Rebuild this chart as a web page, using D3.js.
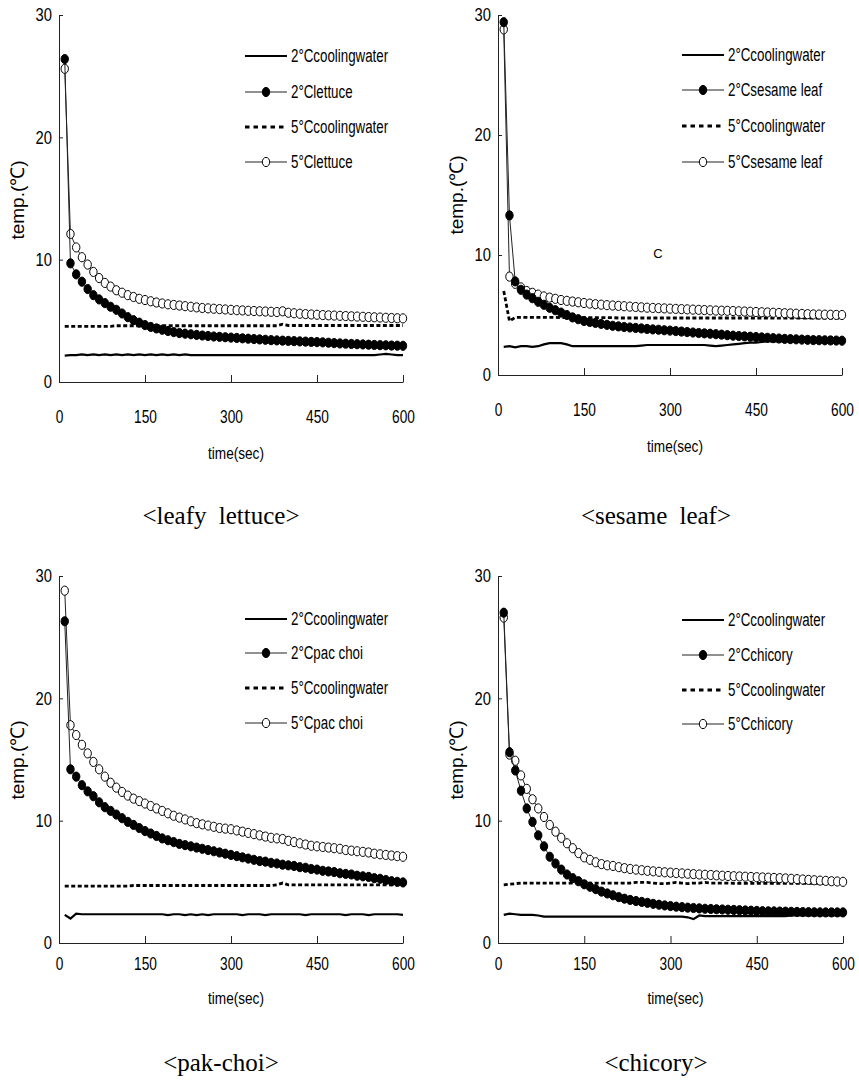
<!DOCTYPE html>
<html>
<head>
<meta charset="utf-8">
<script src="https://cdn.jsdelivr.net/npm/d3@7"></script>
<style>
body { margin: 0; background: #fff; }
svg text { font-family: "Liberation Sans", Arial, sans-serif; fill: #000; }
</style>
</head>
<body>
<svg id="chart" width="859" height="1091"></svg>
<script>
// sampling times (sec)
var time = [10,20,30,40,50,60,70,80,90,100,
  110,120,130,140,150,160,170,180,190,200,
  210,220,230,240,250,260,270,280,290,300,
  310,320,330,340,350,360,370,380,390,400,
  410,420,430,440,450,460,470,480,490,500,
  510,520,530,540,550,560,570,580,590,600];
var xTicks = [0, 150, 300, 450, 600];
var yTicks = [0, 10, 20, 30];

// leafy lettuce
var lettuceWater2 = [2.15,2.2,2.2,2.25,2.2,2.25,2.2,2.25,2.2,2.25,
  2.2,2.25,2.2,2.25,2.2,2.25,2.2,2.25,2.2,2.25,
  2.2,2.25,2.2,2.2,2.2,2.2,2.2,2.2,2.2,2.2,
  2.2,2.2,2.2,2.2,2.2,2.2,2.2,2.2,2.2,2.2,
  2.2,2.2,2.2,2.2,2.2,2.2,2.2,2.2,2.2,2.2,
  2.2,2.2,2.2,2.2,2.2,2.25,2.3,2.25,2.2,2.2];
var lettuce2 = [26.4,9.7,8.8,8.2,7.6,7.1,6.75,6.45,6.15,5.9,
  5.6,5.3,5.05,4.85,4.65,4.5,4.38,4.27,4.17,4.08,
  4.0,3.95,3.9,3.85,3.8,3.76,3.72,3.69,3.66,3.63,
  3.6,3.57,3.54,3.51,3.48,3.45,3.42,3.4,3.38,3.36,
  3.34,3.32,3.3,3.28,3.26,3.24,3.21,3.18,3.15,3.13,
  3.11,3.09,3.07,3.05,3.03,3.01,3.0,2.98,2.97,2.96];
var lettuceWater5 = [4.55,4.55,4.55,4.55,4.55,4.55,4.55,4.55,4.55,4.6,
  4.6,4.6,4.6,4.6,4.6,4.6,4.6,4.6,4.6,4.6,
  4.6,4.6,4.6,4.6,4.6,4.6,4.6,4.6,4.6,4.6,
  4.6,4.6,4.6,4.6,4.6,4.6,4.6,4.6,4.72,4.62,
  4.62,4.62,4.62,4.62,4.62,4.62,4.62,4.62,4.62,4.62,
  4.62,4.62,4.62,4.62,4.62,4.62,4.62,4.62,4.62,4.62];
var lettuce5 = [25.6,12.1,11.0,10.2,9.6,9.0,8.5,8.1,7.8,7.5,
  7.3,7.1,6.95,6.8,6.7,6.6,6.5,6.42,6.35,6.3,
  6.25,6.2,6.15,6.1,6.05,6.02,5.99,5.96,5.93,5.9,
  5.87,5.85,5.82,5.8,5.78,5.76,5.74,5.72,5.78,5.66,
  5.62,5.58,5.55,5.52,5.5,5.47,5.45,5.43,5.41,5.39,
  5.37,5.35,5.33,5.31,5.29,5.27,5.25,5.23,5.21,5.2];

// sesame leaf
var sesameWater2 = [2.35,2.4,2.3,2.4,2.4,2.35,2.4,2.55,2.65,2.65,
  2.65,2.55,2.4,2.4,2.4,2.4,2.4,2.4,2.4,2.4,
  2.4,2.4,2.4,2.4,2.45,2.5,2.5,2.5,2.5,2.5,
  2.5,2.5,2.5,2.5,2.5,2.5,2.45,2.4,2.45,2.5,
  2.55,2.6,2.65,2.7,2.7,2.75,2.8,2.8,2.8,2.8,
  2.8,2.8,2.8,2.8,2.8,2.8,2.8,2.8,2.8,2.8];
var sesame2 = [29.4,13.3,7.8,7.1,6.7,6.4,6.1,5.85,5.6,5.4,
  5.2,5.0,4.8,4.65,4.5,4.42,4.34,4.26,4.18,4.1,
  4.05,4.0,3.96,3.92,3.88,3.84,3.8,3.77,3.73,3.7,
  3.66,3.62,3.58,3.54,3.5,3.47,3.44,3.4,3.36,3.32,
  3.28,3.25,3.22,3.19,3.16,3.13,3.1,3.07,3.04,3.01,
  2.99,2.97,2.95,2.93,2.91,2.9,2.89,2.88,2.87,2.86];
var sesameWater5 = [7.0,4.5,4.8,4.8,4.8,4.8,4.8,4.8,4.8,4.8,
  4.78,4.78,4.78,4.78,4.78,4.78,4.78,4.78,4.78,4.78,
  4.75,4.75,4.75,4.75,4.75,4.75,4.75,4.75,4.75,4.75,
  4.75,4.75,4.75,4.75,4.75,4.75,4.75,4.75,4.75,4.75,
  4.75,4.75,4.75,4.75,4.75,4.75,4.75,4.75,4.75,4.75,
  4.75,4.75,4.75,4.75,4.75,4.75,4.75,4.75,4.75,4.75];
var sesame5 = [28.8,8.2,7.6,7.3,7.0,6.85,6.7,6.55,6.45,6.35,
  6.25,6.18,6.12,6.06,6.0,5.95,5.9,5.86,5.82,5.79,
  5.76,5.73,5.7,5.67,5.64,5.61,5.59,5.57,5.55,5.53,
  5.51,5.49,5.47,5.45,5.43,5.41,5.39,5.37,5.36,5.35,
  5.33,5.31,5.29,5.27,5.25,5.23,5.21,5.19,5.17,5.15,
  5.13,5.11,5.09,5.07,5.05,5.04,5.03,5.02,5.01,5.0];

// pak-choi
var pakWater2 = [2.3,2.0,2.4,2.35,2.35,2.35,2.35,2.35,2.35,2.35,
  2.35,2.35,2.35,2.35,2.35,2.35,2.35,2.35,2.28,2.35,
  2.35,2.28,2.35,2.28,2.35,2.28,2.35,2.35,2.35,2.35,
  2.35,2.28,2.35,2.35,2.35,2.28,2.35,2.35,2.35,2.35,
  2.35,2.35,2.28,2.35,2.35,2.35,2.35,2.35,2.35,2.28,
  2.35,2.35,2.35,2.28,2.35,2.35,2.35,2.35,2.35,2.3];
var pak2 = [26.3,14.2,13.6,12.9,12.4,12.0,11.5,11.1,10.8,10.5,
  10.2,9.9,9.65,9.4,9.15,8.95,8.75,8.55,8.4,8.25,
  8.1,8.0,7.9,7.8,7.7,7.6,7.5,7.4,7.3,7.2,
  7.1,7.0,6.9,6.8,6.7,6.65,6.55,6.5,6.4,6.35,
  6.3,6.2,6.15,6.05,6.0,5.9,5.85,5.8,5.7,5.65,
  5.6,5.5,5.45,5.4,5.3,5.25,5.15,5.05,5.0,4.95];
var pakWater5 = [4.65,4.65,4.65,4.65,4.65,4.65,4.65,4.65,4.65,4.65,
  4.65,4.65,4.7,4.7,4.7,4.7,4.7,4.7,4.7,4.7,
  4.7,4.7,4.7,4.7,4.7,4.7,4.7,4.7,4.7,4.7,
  4.7,4.7,4.7,4.7,4.7,4.7,4.7,4.75,4.9,4.75,
  4.75,4.75,4.75,4.75,4.75,4.75,4.75,4.75,4.75,4.75,
  4.75,4.75,4.75,4.75,4.75,4.75,4.75,4.75,4.75,4.75];
var pak5 = [28.8,17.8,17.0,16.2,15.5,14.8,14.2,13.6,13.1,12.7,
  12.35,12.05,11.8,11.6,11.4,11.2,11.0,10.8,10.6,10.4,
  10.25,10.1,9.95,9.8,9.7,9.6,9.5,9.4,9.35,9.3,
  9.2,9.1,9.0,8.9,8.8,8.7,8.6,8.55,8.5,8.35,
  8.25,8.15,8.05,7.95,7.9,7.85,7.8,7.75,7.7,7.6,
  7.55,7.5,7.45,7.4,7.3,7.25,7.2,7.15,7.1,7.05];

// chicory
var chicWater2 = [2.3,2.4,2.35,2.3,2.3,2.3,2.25,2.15,2.15,2.15,
  2.15,2.15,2.15,2.15,2.15,2.15,2.15,2.15,2.15,2.15,
  2.15,2.15,2.15,2.15,2.15,2.15,2.15,2.15,2.15,2.15,
  2.15,2.15,2.1,1.95,2.25,2.2,2.2,2.2,2.2,2.2,
  2.2,2.2,2.2,2.2,2.2,2.2,2.2,2.2,2.2,2.2,
  2.25,2.25,2.25,2.25,2.25,2.25,2.25,2.25,2.25,2.25];
var chic2 = [27.0,15.6,14.1,12.45,11.0,9.9,8.8,7.9,7.05,6.5,
  6.0,5.6,5.3,5.05,4.8,4.6,4.4,4.2,4.05,3.9,
  3.75,3.62,3.52,3.43,3.36,3.28,3.2,3.13,3.07,3.02,
  2.97,2.93,2.89,2.86,2.83,2.8,2.78,2.76,2.74,2.72,
  2.7,2.68,2.66,2.64,2.62,2.6,2.59,2.58,2.57,2.56,
  2.55,2.54,2.53,2.52,2.51,2.5,2.5,2.5,2.5,2.5];
var chicWater5 = [4.75,4.8,4.85,4.9,4.9,4.9,4.9,4.9,4.9,4.9,
  4.9,4.9,4.9,4.9,4.9,4.9,4.9,4.9,4.9,4.9,
  4.9,4.9,4.9,4.95,4.95,4.95,4.9,4.85,4.85,4.9,
  4.95,4.9,4.85,4.9,4.9,4.95,4.9,4.9,4.9,4.9,
  4.88,4.88,4.88,4.88,4.88,4.88,4.88,4.88,4.88,4.88,
  4.88,4.88,4.88,4.88,4.88,4.88,4.88,4.88,4.88,4.88];
var chic5 = [26.6,15.4,14.9,13.7,12.6,11.75,11.0,10.3,9.65,9.1,
  8.6,8.15,7.75,7.35,7.0,6.8,6.6,6.45,6.35,6.3,
  6.2,6.12,6.05,6.0,5.95,5.9,5.86,5.82,5.78,5.75,
  5.72,5.69,5.66,5.63,5.6,5.58,5.56,5.53,5.5,5.48,
  5.46,5.44,5.42,5.4,5.38,5.36,5.34,5.32,5.3,5.28,
  5.25,5.22,5.19,5.16,5.13,5.1,5.08,5.05,5.03,5.0];

var lettuceNames = ["2°Ccoolingwater", "2°Clettuce", "5°Ccoolingwater", "5°Clettuce"];
var sesameNames = ["2°Ccoolingwater", "2°Csesame leaf", "5°Ccoolingwater", "5°Csesame leaf"];
var pakNames = ["2°Ccoolingwater", "2°Cpac choi", "5°Ccoolingwater", "5°Cpac choi"];
var chicNames = ["2°Ccoolingwater", "2°Cchicory", "5°Ccoolingwater", "5°Cchicory"];

var svg = d3.select("#chart");

// narrow the glyphs the way the original condensed font looks
function squeeze(sel, k) {
    sel.each(function() {
        var w = this.getComputedTextLength();
        d3.select(this).attr("textLength", w * k).attr("lengthAdjust", "spacingAndGlyphs");
    });
}

function marker(sel, kind) {
    sel.append("ellipse")
        .attr("rx", 3.7).attr("ry", 4.6)
        .attr("fill", kind === "filled" ? "#000" : "#fff")
        .attr("stroke", "#000").attr("stroke-width", 1);
}

function drawPanel(p, water2, filled, water5, open, names) {
    var x = d3.scaleLinear().domain([0, 600]).range([p.left, p.right]);
    var y = d3.scaleLinear().domain([0, 30]).range([p.bottom, p.top]);
    var g = svg.append("g");

    var xAxis = d3.axisBottom(x).tickValues(xTicks).tickSizeInner(-7).tickSizeOuter(0).tickPadding(p.tickPad);
    var yAxis = d3.axisLeft(y).tickValues(yTicks).tickSizeInner(-4).tickSizeOuter(0).tickPadding(7);

    var gx = g.append("g").attr("transform", `translate(0,${p.bottom})`).call(xAxis)
        .attr("font-family", null).attr("font-size", null);
    var gy = g.append("g").attr("transform", `translate(${p.left},0)`).call(yAxis)
        .attr("font-family", null).attr("font-size", null);
    g.selectAll(".domain, .tick line").attr("stroke", "#222").attr("stroke-width", 1);
    gx.selectAll("text").style("font-size", "18px");
    gy.selectAll("text").style("font-size", "18px");
    squeeze(gx.selectAll("text"), 0.76);
    squeeze(gy.selectAll("text"), 0.82);

    var tl = g.append("text")
        .attr("x", (p.left + p.right) / 2 + 5)
        .attr("y", p.timeY)
        .attr("dy", "0.35em")
        .attr("text-anchor", "middle")
        .style("font-size", "17px")
        .text("time(sec)");
    squeeze(tl, 0.8);

    g.append("text")
        .attr("transform", `translate(${p.ylabX},${p.ylabY}) rotate(-90)`)
        .attr("text-anchor", "middle")
        .attr("dy", "0.35em")
        .style("font-size", "19px")
        .text("temp.(℃)");

    var line = d3.line().x((d, i) => x(time[i])).y(d => y(d));

    g.append("path").attr("d", line(water2))
        .attr("fill", "none").attr("stroke", "#000").attr("stroke-width", 2.2);
    g.append("path").attr("d", line(water5))
        .attr("fill", "none").attr("stroke", "#000").attr("stroke-width", 2.8)
        .attr("stroke-dasharray", "4,2.5");

    [[open, "open"], [filled, "filled"]].forEach(function(s) {
        g.append("path").attr("d", line(s[0]))
            .attr("fill", "none").attr("stroke", "#222").attr("stroke-width", 1);
        g.selectAll(null).data(s[0]).enter().append("g")
            .attr("transform", (d, i) => `translate(${x(time[i])},${y(d)})`)
            .call(marker, s[1]);
    });

    // legend
    var kinds = ["solid", "filled", "dashed", "open"];
    kinds.forEach(function(k, i) {
        var ly = p.legY[i];
        var lg = g.append("g").attr("transform", `translate(${p.legX},${ly})`);
        var ln = lg.append("line").attr("x1", 0).attr("x2", 42).attr("y1", 0).attr("y2", 0).attr("stroke", "#000");
        if (k === "solid") ln.attr("stroke-width", 2.2);
        else if (k === "dashed") ln.attr("stroke-width", 3).attr("stroke-dasharray", "4.5,4");
        else {
            ln.attr("stroke-width", 1).attr("stroke", "#222");
            lg.append("g").attr("transform", "translate(21,0)").call(marker, k);
        }
        var t = lg.append("text").attr("x", 46).attr("dy", "0.35em")
            .style("font-size", "18px").text(names[i]);
        squeeze(t, 0.74);
    });

    g.append("text")
        .attr("x", p.titleX).attr("y", p.titleY)
        .attr("dy", "0.35em")
        .attr("text-anchor", "middle")
        .style("font-family", "'Liberation Serif', 'DejaVu Serif', serif")
        .style("font-size", "25px")
        .style("word-spacing", "6px")
        .text(p.title);
    return g;
}

var p1 = {left: 59, right: 403, top: 15, bottom: 382, tickPad: 28, timeY: 453,
    legX: 245, legY: [56, 92, 127, 162],
    ylabX: 17, ylabY: 200, titleX: 221, titleY: 515, title: "<leafy lettuce>"};
var p2 = {left: 498, right: 842, top: 15, bottom: 375, tickPad: 28, timeY: 446,
    legX: 682, legY: [55, 90, 126, 162],
    ylabX: 456, ylabY: 195, titleX: 656, titleY: 515, title: "<sesame leaf>"};
var p3 = {left: 59, right: 403, top: 576, bottom: 943, tickPad: 14, timeY: 998,
    legX: 245, legY: [619, 653, 688, 723],
    ylabX: 17, ylabY: 760, titleX: 221, titleY: 1062, title: "<pak-choi>"};
var p4 = {left: 498, right: 843, top: 576, bottom: 943, tickPad: 14, timeY: 998,
    legX: 682, legY: [620, 655, 690, 724],
    ylabX: 456, ylabY: 760, titleX: 656, titleY: 1062, title: "<chicory>"};

drawPanel(p1, lettuceWater2, lettuce2, lettuceWater5, lettuce5, lettuceNames);
var g2 = drawPanel(p2, sesameWater2, sesame2, sesameWater5, sesame5, sesameNames);
drawPanel(p3, pakWater2, pak2, pakWater5, pak5, pakNames);
drawPanel(p4, chicWater2, chic2, chicWater5, chic5, chicNames);

// stray letter left in the sesame panel
g2.append("text").attr("x", 658).attr("y", 253).attr("dy", "0.35em")
    .attr("text-anchor", "middle").style("font-size", "13px").text("C");
</script>
</body>
</html>
